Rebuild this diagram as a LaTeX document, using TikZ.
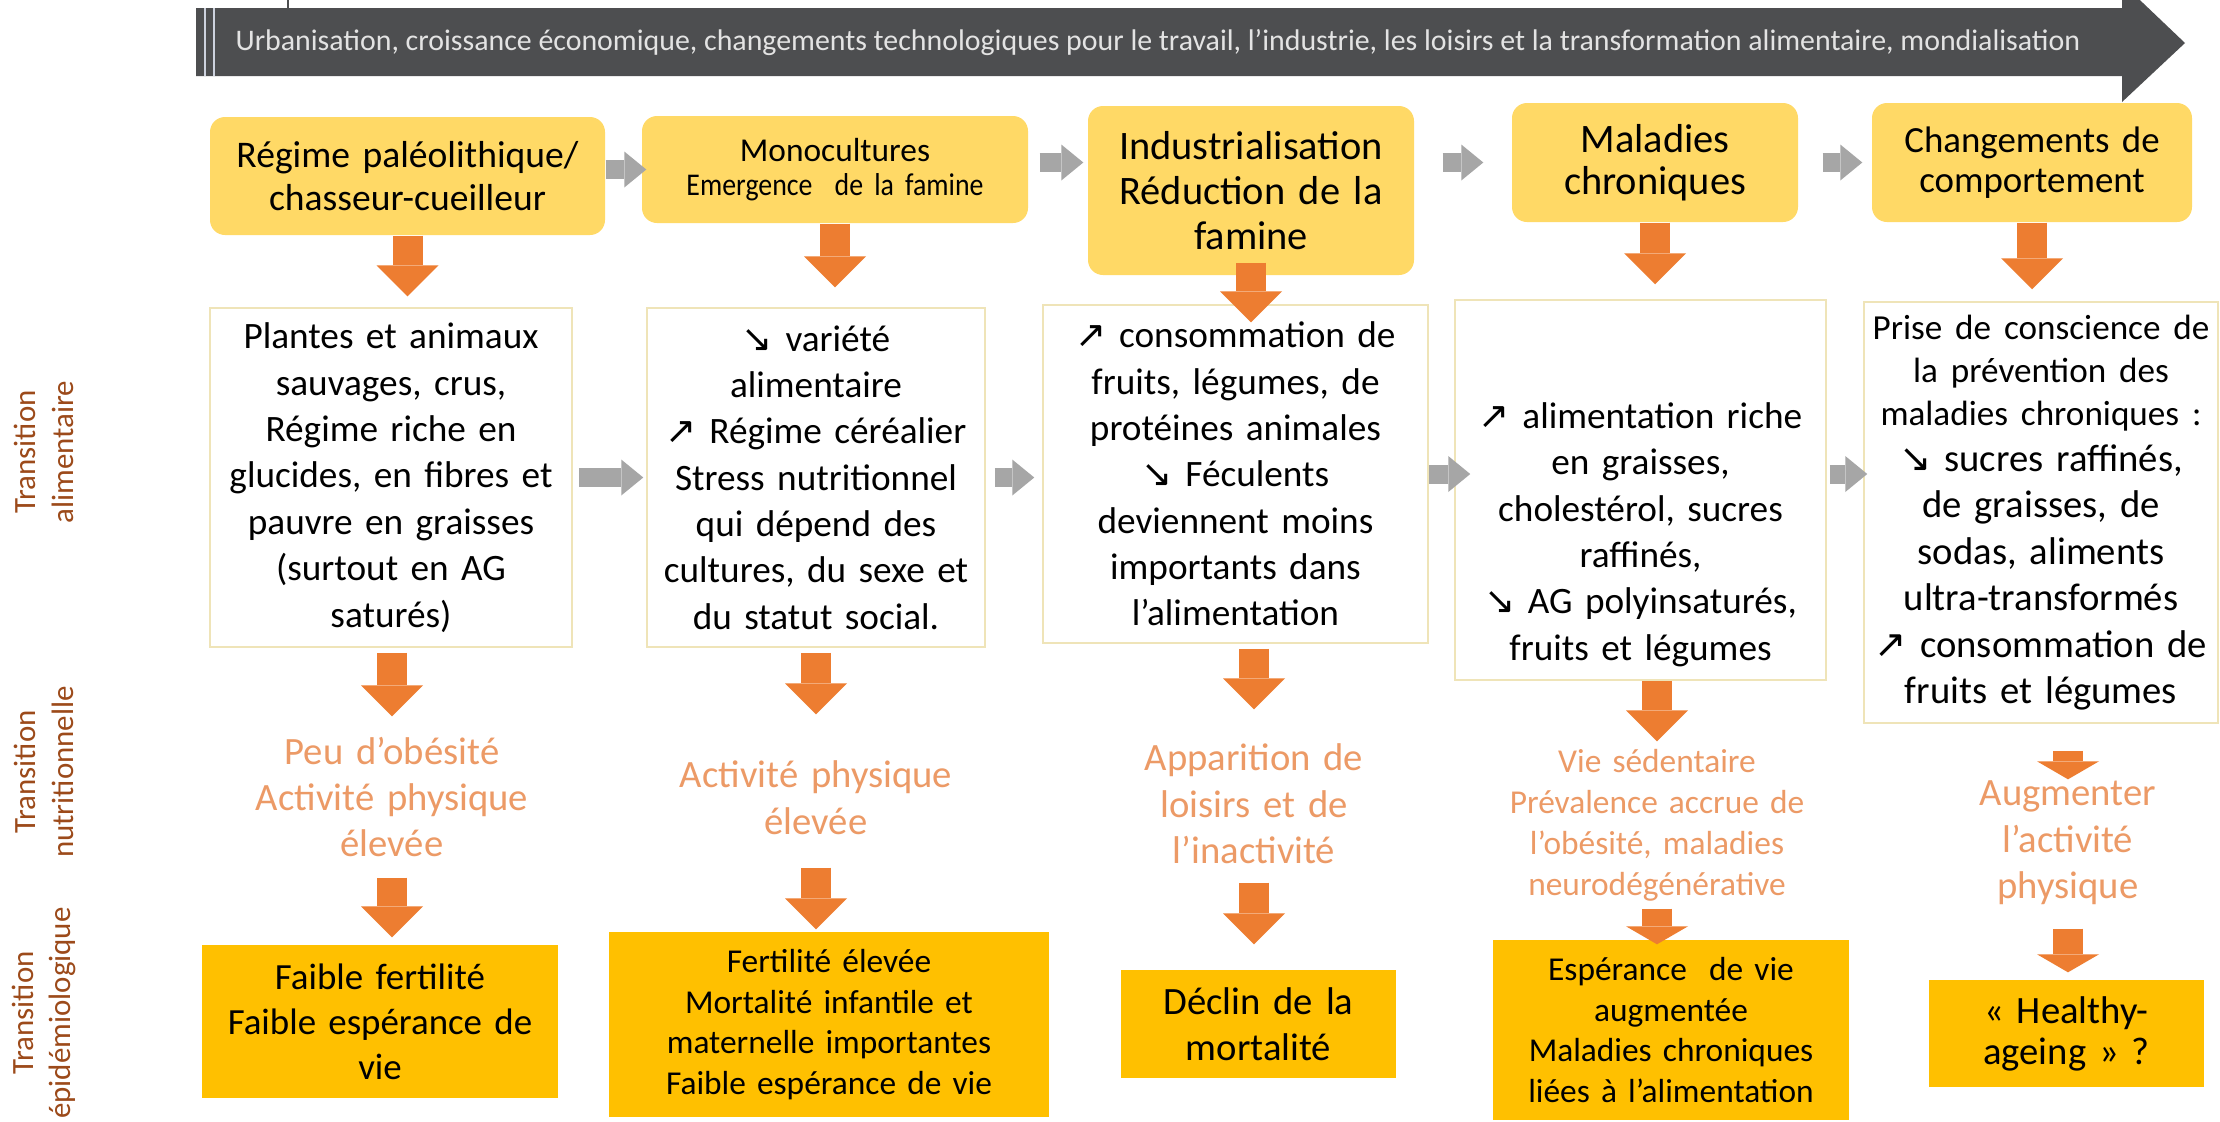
\documentclass[tikz,border=0pt]{standalone}
\usepackage{fontspec}
\setmainfont{Carlito}
\newfontfamily\symfont{DejaVu Sans}
\newfontfamily\narrowfont{Carlito}[FakeStretch=0.88]
\usetikzlibrary{arrows.meta}

\definecolor{phasefill}{HTML}{FFD966}
\definecolor{epifill}{HTML}{FFC000}
\definecolor{arroworange}{HTML}{ED7D31}
\definecolor{arrowgray}{HTML}{A6A6A6}
\definecolor{acttext}{HTML}{EC9A66}
\definecolor{bandgray}{HTML}{4D4E50}
\definecolor{bandtext}{HTML}{E3E3E3}
\definecolor{bandline}{HTML}{CDD2DE}
\definecolor{dietline}{HTML}{EFE4B8}
\definecolor{transbrown}{HTML}{9C4A1A}

\newcommand{\hausse}{{\symfont ↗}}
\newcommand{\baisse}{{\symfont ↘}}

\tikzset{
  phase/.style={fill=phasefill, rounded corners=1.5mm, inner sep=0pt, align=center},
  diet/.style={draw=dietline, line width=0.15mm, fill=white, inner sep=0pt, align=center,
    font=\fontsize{10.6}{13.2}\selectfont},
  act/.style={text=acttext, inner sep=0pt, align=center, text width=34mm,
    font=\fontsize{11}{13.2}\selectfont},
  epi/.style={fill=epifill, inner sep=0pt, align=center},
  trans/.style={text=transbrown, rotate=90, inner sep=0pt, align=center,
    font=\fontsize{8.8}{10.7}\selectfont},
  orangearrow/.style={arroworange, line width=3mm,
    -{Triangle[length=3.1mm, width=6.2mm, line width=0pt]}},
  shortarrow/.style={-{Triangle[length=1.8mm, width=6.2mm, line width=0pt]}},
  grayarrow/.style={arrowgray, line width=1.9mm,
    -{Triangle[length=2.2mm, width=3.6mm, line width=0pt]}}
}

\begin{document}
\begin{tikzpicture}[x=0.1mm, y=-0.1mm]
  \useasboundingbox (0,0) rectangle (2220,1121);
  \fill[white] (0,0) rectangle (2220,1121);

  \fill[bandgray] (196,8) -- (2122,8) -- (2122,-17) -- (2185,43) -- (2122,102) -- (2122,76) -- (196,76) -- cycle;
  \draw[bandline, line width=0.15mm] (205,8) -- (205,76) (214,8) -- (214,76);
  \draw[bandgray, line width=0.25mm] (288,0) -- (288,8);
  \node[text=bandtext, inner sep=0pt, font=\fontsize{8.5}{10}\selectfont] (trend) at (1158,43)
    {Urbanisation, croissance économique, changements technologiques pour le travail, l’industrie, les loisirs et la transformation alimentaire, mondialisation};

  \node[trans] (trans1) at (44,452) {Transition\\ alimentaire};
  \node[trans] (trans2) at (44,772) {Transition\\ nutritionnelle};
  \node[trans] (trans3) at (44,1013) {Transition\\ épidémiologique};

  \node[phase, minimum width=39.5mm, minimum height=11.8mm, text width=38mm,
    font=\fontsize{10.7}{12}\selectfont] (reg1) at (407.5,176) {Régime paléolithique/\\ chasseur-cueilleur};
  \node[phase, minimum width=38.6mm, minimum height=10.7mm, text width=37mm,
    font=\fontsize{9.5}{9.6}\selectfont] (reg2) at (835,169.5) {Monocultures\\ {\narrowfont\fontsize{9}{9.6}\selectfont Emergence\ \ de la famine}};
  \node[phase, minimum width=32.6mm, minimum height=16.9mm, text width=31mm,
    font=\fontsize{11.5}{12.8}\selectfont] (reg3) at (1251,190.5) {Industrialisation\\ Réduction de la\\ famine};
  \node[phase, minimum width=28.6mm, minimum height=11.9mm, text width=27mm,
    font=\fontsize{11.5}{11.8}\selectfont] (reg4) at (1655,162.5) {Maladies\\ chroniques};
  \node[phase, minimum width=32mm, minimum height=11.9mm, text width=31mm,
    font=\fontsize{10.5}{11.2}\selectfont] (reg5) at (2032,162.5) {Changements de\\ comportement};

  \node[diet, minimum width=36.2mm, minimum height=33.9mm, text width=35mm] (diet1) at (391,477.5)
    {Plantes et animaux\\ sauvages, crus,\\ Régime riche en\\ glucides, en fibres et\\ pauvre en graisses\\ (surtout en AG\\ saturés)};
  \node[diet, minimum width=33.8mm, minimum height=33.9mm, text width=33mm] (diet2) at (816,477.5)
    {\baisse{} variété\\ alimentaire\\ \hausse{} Régime céréalier\\ Stress nutritionnel\\ qui dépend des\\ cultures, du sexe et\\ du statut social.};
  \node[diet, minimum width=38.5mm, minimum height=33.8mm, text width=37.5mm] (diet3) at (1235.5,474)
    {\hausse{} consommation de\\ fruits, légumes, de\\ protéines animales\\ \baisse{} Féculents\\ deviennent moins\\ importants dans\\ l’alimentation};
  \node[diet, minimum width=37.1mm, minimum height=38mm, text width=36mm, text height=11.5mm] (diet4) at (1640.5,490)
    {\hausse{} alimentation riche\\ en graisses,\\ cholestérol, sucres\\ raffinés,\\ \baisse{} AG polyinsaturés,\\ fruits et légumes};
  \node[diet, minimum width=35.4mm, minimum height=42.1mm, text width=35mm,
    font=\fontsize{11}{13.2}\selectfont] (diet5) at (2041,512.5)
    {{\fontsize{10}{12.2}\selectfont Prise de conscience de\\ la prévention des\\ maladies chroniques :\par}
     \baisse{} sucres raffinés,\\ de graisses, de\\ sodas, aliments\\ ultra-transformés\\ \hausse{} consommation de\\ fruits et légumes};

  \node[act, minimum height=16mm] (act1) at (392,797) {Peu d’obésité\\ Activité physique\\ élevée};
  \node[act, minimum height=16.5mm] (act2) at (816,797.5) {Activité physique\\ élevée};
  \node[act, minimum height=18.8mm] (act3) at (1254,804) {Apparition de\\ loisirs et de\\ l’inactivité};
  \node[act, minimum height=16.6mm, font=\fontsize{9.5}{11.7}\selectfont] (act4) at (1657,825)
    {Vie sédentaire\\ Prévalence accrue de\\ l’obésité, maladies\\ neurodégénérative};
  \node[act, minimum height=12.6mm] (act5) at (2068,843) {Augmenter\\ l’activité\\ physique};

  \node[epi, minimum width=35.6mm, minimum height=15.3mm, text width=35mm,
    font=\fontsize{10.5}{12.8}\selectfont] (epi1) at (380,1021.5) {Faible fertilité\\ Faible espérance de\\ vie};
  \node[epi, minimum width=44mm, minimum height=18.5mm, text width=43mm,
    font=\fontsize{9.5}{11.6}\selectfont] (epi2) at (829,1024.5)
    {Fertilité élevée\\ Mortalité infantile et\\ maternelle importantes\\ Faible espérance de vie};
  \node[epi, minimum width=27.5mm, minimum height=10.8mm, text width=27mm,
    font=\fontsize{11}{13}\selectfont] (epi3) at (1258.5,1024) {Déclin de la\\ mortalité};
  \node[epi, minimum width=35.6mm, minimum height=18mm, text width=35mm,
    font=\fontsize{9.5}{11.6}\selectfont] (epi4) at (1671,1030)
    {Espérance\ \ de vie\\ augmentée\\ Maladies chroniques\\ liées à l’alimentation};
  \node[epi, minimum width=27.5mm, minimum height=10.7mm, text width=27mm,
    font=\fontsize{11}{11.7}\selectfont] (epi5) at (2066.5,1033.5) {« Healthy-\\ ageing » ?};

  \path[grayarrow]
  (reg1.east |- reg2.west) edge[shorten >=-0.5mm] (reg2.west)
  (reg2.east |- reg4.west) edge[shorten <=1.1mm, shorten >=0.4mm] (reg3.west |- reg4.west)
  (reg3.east |- reg4.west) edge[shorten <=2.8mm, shorten >=2.8mm] (reg4.west)
  (reg4.east) edge[shorten <=2.4mm, shorten >=0.9mm] (reg5.west)
  (diet1.east) edge[shorten <=0.6mm, shorten >=0.3mm] (diet2.west)
  (diet2.east) edge[shorten <=0.9mm, shorten >=0.8mm] (diet2.east -| diet3.west)
  (diet3.east) edge[shorten >=-1.6mm] (diet3.east -| diet4.west)
  (diet4.east |- diet3.east) edge[shorten <=0.3mm, shorten >=-0.4mm] (diet5.west |- diet3.east);

  \path[orangearrow]
  (reg1.south) edge[shorten >=1.1mm] (reg1.south |- diet1.north)
  (reg2.south) edge[shorten >=2mm] (reg2.south |- diet2.north)
  (reg3.south) edge[shorten <=-1.3mm, shorten >=-1.8mm] (reg3.south |- diet3.north)
  (reg4.south) edge[shorten >=1.5mm] (reg4.south |- diet4.north)
  (reg5.south) edge[shorten >=1.2mm] (reg5.south |- diet5.north)
  (diet1.south -| act1) edge[shorten <=0.5mm] (act1.north)
  (diet2.south -| act2) edge[shorten <=0.5mm] (act2.north)
  (diet3.south -| act3) edge[shorten <=0.5mm] (act3.north)
  (diet4.south -| act4) edge (act4.north)
  (diet5.south -| act5) edge[shortarrow, shorten <=2.7mm] (act5.north)
  (act1.south) edge[shorten >=0.7mm] (act1.south |- epi1.north)
  (act2.south) edge[shorten <=-1.3mm, shorten >=0.2mm] (act2.south |- epi2.north)
  (act3.south) edge[shorten <=-1.6mm, shorten >=2.5mm] (act3.south |- epi3.north)
  (act4.south) edge[shortarrow, shorten >=-0.5mm] (act4.south |- epi4.north)
  (act5.south) edge[shortarrow, shorten <=2.2mm, shorten >=0.7mm] (act5.south |- epi5.north);
\end{tikzpicture}
\end{document}
